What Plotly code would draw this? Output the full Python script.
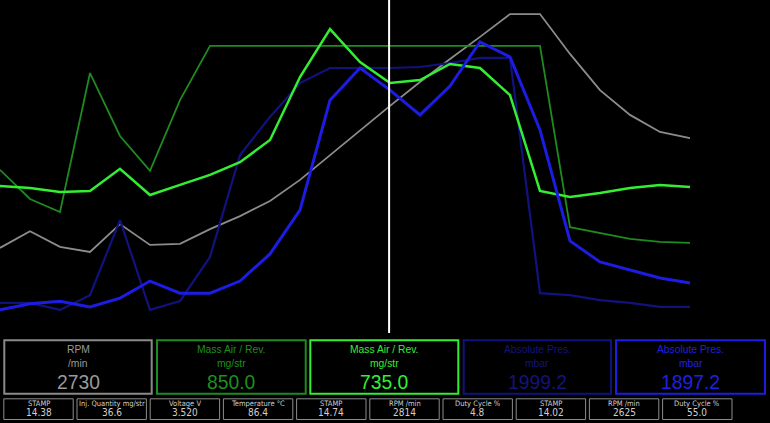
import plotly.graph_objects as go

# ---- data (percent of chart full scale) ----
sample_idx = list(range(24))
rpm_pct = [26.0, 31.0, 26.3, 24.8, 33.1, 26.9, 27.2, 31.6, 35.5, 40.0, 46.3, 53.7,
           61.2, 68.4, 75.5, 82.4, 89.0, 95.8, 95.8, 83.9, 73.1, 65.7, 60.6, 58.8]
mass_air_1_pct = [49.3, 40.6, 36.7, 78.2, 59.4, 49.0, 70.1, 86.3, 86.3, 86.3, 86.3, 86.3,
                  86.3, 86.3, 86.3, 86.3, 86.3, 86.3, 86.3, 32.2, 30.4, 28.7, 27.8, 27.5]
mass_air_2_pct = [44.5, 43.9, 42.7, 43.0, 49.6, 41.8, 44.8, 47.8, 51.6, 58.2, 77.0, 91.3,
                  81.5, 75.2, 76.1, 80.9, 79.7, 71.6, 43.0, 41.2, 42.4, 43.9, 44.8, 44.2]
abs_pres_1_pct = [9.6, 9.6, 7.5, 11.9, 34.3, 7.5, 10.1, 23.3, 53.7, 65.1, 75.2, 79.7,
                  79.7, 79.7, 80.0, 81.2, 82.7, 82.7, 12.5, 11.9, 10.4, 9.6, 8.4, 8.4]
abs_pres_2_pct = [7.5, 9.3, 10.1, 8.4, 11.0, 16.1, 12.5, 12.5, 16.1, 24.2, 37.3, 70.1,
                  79.7, 73.1, 65.7, 74.3, 87.5, 83.0, 61.2, 28.1, 21.8, 19.4, 17.0, 15.5]
cursor_pos = 12.97

series_names = ["RPM", "Mass Air / Rev.", "Mass Air / Rev.", "Absolute Pres.", "Absolute Pres."]
series_units = ["/min", "mg/str", "mg/str", "mbar", "mbar"]
series_values = ["2730", "850.0", "735.0", "1999.2", "1897.2"]

small_labels = ["STAMP", "Inj. Quantity mg/str", "Voltage V", "Temperature °C", "STAMP",
                "RPM /min", "Duty Cycle %", "STAMP", "RPM /min", "Duty Cycle %"]
small_values = ["14.38", "36.6", "3.520", "86.4", "14.74", "2814", "4.8", "14.02", "2625", "55.0"]

# ---- styles ----
line_colors = ["#8c8c8c", "#1f8a1f", "#33ee33", "#12127e", "#1c1ce2"]
line_widths = [1.8, 1.8, 2.5, 2.2, 3]
text_colors = ["#9a9a9a", "#1f8f1f", "#33ee33", "#14147a", "#2020e0"]
W, H = 770, 423

fig = go.Figure()
order = [0, 1, 3, 2, 4]
all_series = [rpm_pct, mass_air_1_pct, mass_air_2_pct, abs_pres_1_pct, abs_pres_2_pct]
for i in order:
    fig.add_trace(go.Scatter(x=sample_idx, y=all_series[i], mode="lines",
                             line=dict(color=line_colors[i], width=line_widths[i]),
                             hoverinfo="skip", showlegend=False))

def px(x):
    return x / W

def py(y):
    return 1 - y / H

shapes = []
annotations = []
# cursor
shapes.append(dict(type="line", xref="x", yref="paper", x0=cursor_pos, x1=cursor_pos,
                   y0=py(333), y1=1, line=dict(color="#ffffff", width=2)))

big_x0 = [4.3, 157, 310.3, 463.7, 616]
big_x1 = [151.7, 305.7, 458.3, 611, 765]
for i in range(5):
    shapes.append(dict(type="rect", xref="paper", yref="paper",
                       x0=px(big_x0[i]), x1=px(big_x1[i]), y0=py(393.7), y1=py(340.3),
                       line=dict(color=line_colors[i] if i != 0 else "#8a8a8a", width=2),
                       fillcolor="rgba(0,0,0,0)"))
    cx = px((big_x0[i] + big_x1[i]) / 2)
    for txt, yy, sz in [(series_names[i], 349.5, 10.3), (series_units[i], 363, 10.3),
                        (series_values[i], 382, 19.3)]:
        annotations.append(dict(x=cx, y=py(yy), xref="paper", yref="paper", text=txt,
                                showarrow=False, xanchor="center", yanchor="middle",
                                borderpad=0,
                                font=dict(family="Liberation Sans, Arial, sans-serif",
                                          size=sz, color=text_colors[i])))

small_font = "Liberation Sans Narrow, Arial Narrow, DejaVu Sans Condensed, sans-serif"
for i in range(10):
    x0 = 3.8 + i * 73.2
    x1 = x0 + 69.4
    shapes.append(dict(type="rect", xref="paper", yref="paper",
                       x0=px(x0), x1=px(x1), y0=py(419.5), y1=py(398.8),
                       line=dict(color="#8c8c8c", width=1), fillcolor="rgba(0,0,0,0)"))
    cx = px((x0 + x1) / 2)
    annotations.append(dict(x=cx, y=py(403.2), xref="paper", yref="paper", text=small_labels[i],
                            showarrow=False, xanchor="center", yanchor="middle", borderpad=0,
                            font=dict(family=small_font, size=7.5, color="#cfcfcf")))
    annotations.append(dict(x=cx, y=py(412.3), xref="paper", yref="paper", text=small_values[i],
                            showarrow=False, xanchor="center", yanchor="middle", borderpad=0,
                            font=dict(family=small_font, size=10, color="#cfcfcf")))

fig.update_layout(
    width=W, height=H,
    margin=dict(l=0, r=0, t=0, b=0),
    paper_bgcolor="#000000", plot_bgcolor="#000000",
    xaxis=dict(range=[0, W / 30], visible=False, fixedrange=True),
    yaxis=dict(range=[0, 100], visible=False, fixedrange=True,
               domain=[1 - 335 / H, 1]),
    shapes=shapes, annotations=annotations,
    showlegend=False,
)

fig.write_html("out.html", config={"displayModeBar": False},
               post_script="document.body.style.margin='0';document.body.style.overflow='hidden';document.body.style.background='#000';")
